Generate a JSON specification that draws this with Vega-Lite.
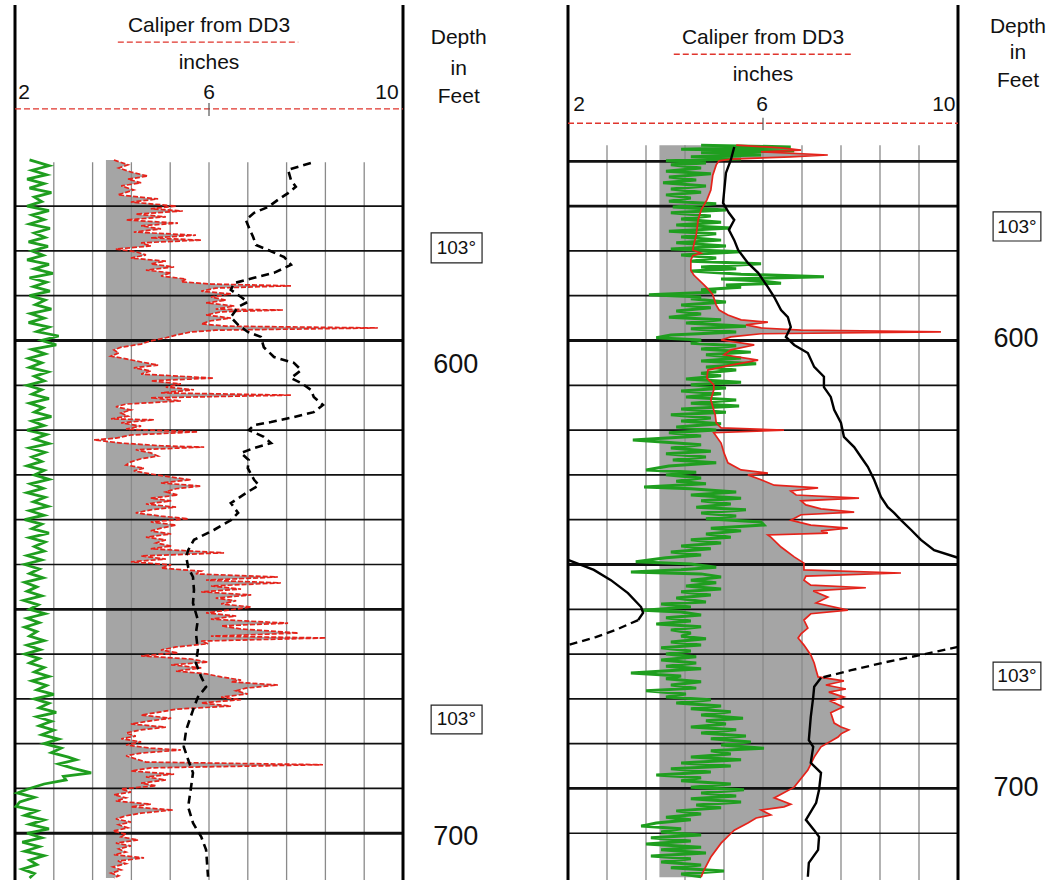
{
"$schema": "https://vega.github.io/schema/vega-lite/v6.json",
"padding": {"left": 10, "top": 0, "right": 0, "bottom": 2},
"background": "white",
"spacing": 0,
"bounds": "flush",
"config": {"view": {"stroke": null}, "text": {"font": "Liberation Sans"}},
"resolve": {"scale": {"x": "independent", "y": "independent"}},
"datasets": {
"grL": [{"d":559.7,"v":2.3},{"d":561,"v":2.7},{"d":562,"v":2.35},{"d":563,"v":2.65},{"d":564,"v":2.25},{"d":565,"v":2.6},{"d":566,"v":2.3},{"d":567,"v":2.75},{"d":568,"v":2.4},{"d":569,"v":2.55},{"d":570,"v":2.25},{"d":571,"v":2.7},{"d":572,"v":2.35},{"d":573,"v":2.6},{"d":574,"v":2.3},{"d":575,"v":2.72},{"d":576,"v":2.4},{"d":577,"v":2.62},{"d":578,"v":2.28},{"d":579,"v":2.68},{"d":580,"v":2.35},{"d":581,"v":2.58},{"d":582,"v":2.25},{"d":583,"v":2.7},{"d":584,"v":2.4},{"d":585,"v":2.78},{"d":586,"v":2.3},{"d":587,"v":2.65},{"d":588,"v":2.38},{"d":589,"v":2.72},{"d":590,"v":2.3},{"d":591,"v":2.62},{"d":592,"v":2.42},{"d":593,"v":2.75},{"d":594,"v":2.32},{"d":595,"v":2.6},{"d":596,"v":2.28},{"d":597,"v":2.7},{"d":598,"v":2.45},{"d":599,"v":2.9},{"d":600,"v":2.55},{"d":601,"v":2.85},{"d":602,"v":2.35},{"d":603,"v":2.62},{"d":604,"v":2.28},{"d":605,"v":2.55},{"d":606,"v":2.3},{"d":607,"v":2.68},{"d":608,"v":2.4},{"d":609,"v":2.6},{"d":610,"v":2.25},{"d":611,"v":2.55},{"d":612,"v":2.35},{"d":613,"v":2.7},{"d":614,"v":2.3},{"d":615,"v":2.58},{"d":616,"v":2.4},{"d":617,"v":2.75},{"d":618,"v":2.35},{"d":619,"v":2.6},{"d":620,"v":2.25},{"d":621,"v":2.65},{"d":622,"v":2.4},{"d":623,"v":2.7},{"d":624,"v":2.3},{"d":625,"v":2.62},{"d":626,"v":2.35},{"d":627,"v":2.55},{"d":628,"v":2.25},{"d":629,"v":2.6},{"d":630,"v":2.4},{"d":631,"v":2.7},{"d":632,"v":2.32},{"d":633,"v":2.58},{"d":634,"v":2.25},{"d":635,"v":2.62},{"d":636,"v":2.38},{"d":637,"v":2.68},{"d":638,"v":2.3},{"d":639,"v":2.6},{"d":640,"v":2.2},{"d":641,"v":2.55},{"d":642,"v":2.35},{"d":643,"v":2.7},{"d":644,"v":2.3},{"d":645,"v":2.62},{"d":646,"v":2.4},{"d":647,"v":2.6},{"d":648,"v":2.25},{"d":649,"v":2.55},{"d":650,"v":2.2},{"d":651,"v":2.5},{"d":652,"v":2.3},{"d":653,"v":2.58},{"d":654,"v":2.2},{"d":655,"v":2.45},{"d":656,"v":2.25},{"d":657,"v":2.55},{"d":658,"v":2.18},{"d":659,"v":2.48},{"d":660,"v":2.3},{"d":661,"v":2.62},{"d":662,"v":2.25},{"d":663,"v":2.5},{"d":664,"v":2.2},{"d":665,"v":2.45},{"d":666,"v":2.3},{"d":667,"v":2.6},{"d":668,"v":2.25},{"d":669,"v":2.52},{"d":670,"v":2.2},{"d":671,"v":2.5},{"d":672,"v":2.3},{"d":673,"v":2.6},{"d":674,"v":2.4},{"d":675,"v":2.7},{"d":676,"v":2.35},{"d":677,"v":2.65},{"d":678,"v":2.45},{"d":679,"v":2.8},{"d":680,"v":2.4},{"d":681,"v":2.7},{"d":682,"v":2.5},{"d":683,"v":2.85},{"d":684,"v":2.45},{"d":685,"v":2.75},{"d":686,"v":2.5},{"d":687,"v":2.8},{"d":688,"v":2.55},{"d":689,"v":2.9},{"d":690,"v":2.6},{"d":691,"v":2.95},{"d":692,"v":2.75},{"d":693,"v":3.1},{"d":693.6,"v":3.26},{"d":694.5,"v":2.9},{"d":695.5,"v":3.2},{"d":696.5,"v":3.57},{"d":697.3,"v":3.0},{"d":698.1,"v":3.05},{"d":699,"v":2.6},{"d":700,"v":2.3},{"d":701,"v":2.05},{"d":702,"v":2.4},{"d":703,"v":2.1},{"d":704,"v":2.02},{"d":705,"v":2.45},{"d":706,"v":2.2},{"d":707,"v":2.6},{"d":708,"v":2.3},{"d":709,"v":2.7},{"d":710,"v":2.25},{"d":711,"v":2.55},{"d":712,"v":2.15},{"d":713,"v":2.5},{"d":714,"v":2.2},{"d":715,"v":2.6},{"d":716,"v":2.3},{"d":717,"v":2.45},{"d":718,"v":2.15},{"d":719,"v":2.4},{"d":720,"v":2.3}],
"calL": [{"d":559.7,"v":4.04},{"d":560.8,"v":4.33},{"d":561.5,"v":4.14},{"d":562.4,"v":4.39},{"d":563.3,"v":4.74},{"d":564.0,"v":4.33},{"d":564.8,"v":4.60},{"d":565.5,"v":4.19},{"d":566.4,"v":4.45},{"d":567.5,"v":4.12},{"d":568.4,"v":4.95},{"d":569.1,"v":4.39},{"d":570.0,"v":5.32},{"d":570.6,"v":4.80},{"d":571.1,"v":5.46},{"d":571.8,"v":4.49},{"d":572.4,"v":5.11},{"d":573.1,"v":4.29},{"d":573.8,"v":5.36},{"d":574.4,"v":4.60},{"d":575.1,"v":5.01},{"d":575.8,"v":4.45},{"d":576.5,"v":5.73},{"d":577.1,"v":4.80},{"d":577.6,"v":5.84},{"d":578.2,"v":4.60},{"d":578.9,"v":4.80},{"d":579.6,"v":4.08},{"d":580.2,"v":4.49},{"d":580.9,"v":4.70},{"d":581.6,"v":4.39},{"d":582.3,"v":5.11},{"d":582.9,"v":4.80},{"d":583.6,"v":5.28},{"d":584.3,"v":4.70},{"d":584.9,"v":5.22},{"d":585.6,"v":5.01},{"d":586.3,"v":5.53},{"d":586.9,"v":5.42},{"d":587.4,"v":6.04},{"d":587.8,"v":7.69},{"d":588.3,"v":6.14},{"d":589.0,"v":5.84},{"d":589.6,"v":6.45},{"d":590.3,"v":6.04},{"d":591.0,"v":6.35},{"d":591.6,"v":5.94},{"d":592.3,"v":6.52},{"d":593.0,"v":6.14},{"d":593.2,"v":7.53},{"d":593.6,"v":6.25},{"d":594.3,"v":5.94},{"d":595.0,"v":6.45},{"d":595.6,"v":6.04},{"d":596.3,"v":5.84},{"d":596.8,"v":6.35},{"d":597.2,"v":9.48},{"d":597.7,"v":6.14},{"d":598.1,"v":5.63},{"d":598.8,"v":5.32},{"d":599.4,"v":5.11},{"d":600.1,"v":4.80},{"d":600.8,"v":4.60},{"d":601.5,"v":4.19},{"d":602.1,"v":4.04},{"d":602.8,"v":4.14},{"d":603.5,"v":3.98},{"d":604.1,"v":4.29},{"d":604.8,"v":4.60},{"d":605.5,"v":4.95},{"d":606.1,"v":4.45},{"d":606.8,"v":4.80},{"d":607.5,"v":4.60},{"d":608.4,"v":6.10},{"d":609.0,"v":4.80},{"d":609.7,"v":5.42},{"d":610.4,"v":5.11},{"d":611.0,"v":5.69},{"d":611.7,"v":5.01},{"d":612.2,"v":7.69},{"d":612.8,"v":4.80},{"d":613.5,"v":5.42},{"d":614.2,"v":4.29},{"d":614.8,"v":4.08},{"d":615.5,"v":4.39},{"d":616.2,"v":4.19},{"d":616.9,"v":4.33},{"d":617.5,"v":3.98},{"d":617.7,"v":4.87},{"d":618.4,"v":4.19},{"d":619.1,"v":4.60},{"d":619.8,"v":4.29},{"d":620.4,"v":5.77},{"d":621.1,"v":4.39},{"d":621.8,"v":4.08},{"d":622.2,"v":3.63},{"d":622.9,"v":4.19},{"d":623.5,"v":5.01},{"d":623.8,"v":5.90},{"d":624.4,"v":4.49},{"d":625.1,"v":4.80},{"d":625.8,"v":4.95},{"d":626.4,"v":4.60},{"d":627.1,"v":4.39},{"d":627.8,"v":4.29},{"d":628.5,"v":4.66},{"d":629.1,"v":4.45},{"d":629.8,"v":4.80},{"d":630.5,"v":5.22},{"d":631.1,"v":5.63},{"d":631.8,"v":5.01},{"d":632.5,"v":5.84},{"d":633.1,"v":5.32},{"d":633.8,"v":5.11},{"d":634.5,"v":5.36},{"d":635.2,"v":4.80},{"d":635.8,"v":5.22},{"d":636.5,"v":4.70},{"d":637.2,"v":5.32},{"d":637.8,"v":4.80},{"d":638.5,"v":4.49},{"d":639.2,"v":5.01},{"d":639.8,"v":5.57},{"d":640.5,"v":4.80},{"d":641.2,"v":5.32},{"d":641.9,"v":5.01},{"d":642.5,"v":4.80},{"d":643.2,"v":5.22},{"d":643.9,"v":4.70},{"d":644.5,"v":5.11},{"d":645.2,"v":4.91},{"d":645.9,"v":5.22},{"d":646.5,"v":4.80},{"d":647.4,"v":6.31},{"d":648.1,"v":4.60},{"d":648.8,"v":5.11},{"d":649.4,"v":4.39},{"d":650.1,"v":5.22},{"d":650.8,"v":5.01},{"d":651.5,"v":5.84},{"d":652.1,"v":5.73},{"d":652.8,"v":7.42},{"d":653.5,"v":5.94},{"d":654.1,"v":7.48},{"d":654.8,"v":6.04},{"d":655.5,"v":6.66},{"d":656.1,"v":5.84},{"d":656.8,"v":6.87},{"d":657.5,"v":6.14},{"d":658.1,"v":6.56},{"d":658.8,"v":6.25},{"d":659.5,"v":6.87},{"d":660.2,"v":6.39},{"d":660.8,"v":5.94},{"d":661.5,"v":6.56},{"d":662.2,"v":6.04},{"d":663.1,"v":7.63},{"d":663.7,"v":6.25},{"d":664.4,"v":6.66},{"d":665.3,"v":7.84},{"d":666.0,"v":6.04},{"d":666.4,"v":8.41},{"d":667.1,"v":5.84},{"d":667.7,"v":5.98},{"d":668.4,"v":5.32},{"d":669.1,"v":5.01},{"d":669.7,"v":5.36},{"d":670.4,"v":4.60},{"d":671.1,"v":5.63},{"d":671.8,"v":5.98},{"d":672.4,"v":5.22},{"d":673.1,"v":5.84},{"d":673.8,"v":5.32},{"d":674.4,"v":5.94},{"d":675.1,"v":6.25},{"d":675.8,"v":6.66},{"d":676.2,"v":6.45},{"d":676.9,"v":7.42},{"d":677.6,"v":6.76},{"d":678.2,"v":6.56},{"d":678.9,"v":6.80},{"d":679.6,"v":6.25},{"d":680.2,"v":6.66},{"d":680.9,"v":5.84},{"d":681.6,"v":6.45},{"d":682.3,"v":5.32},{"d":682.9,"v":5.01},{"d":683.6,"v":4.60},{"d":684.3,"v":5.22},{"d":684.9,"v":4.80},{"d":685.6,"v":4.39},{"d":686.3,"v":5.11},{"d":686.9,"v":4.60},{"d":687.6,"v":4.29},{"d":688.3,"v":4.49},{"d":688.9,"v":4.19},{"d":689.6,"v":4.60},{"d":690.3,"v":4.29},{"d":691.0,"v":4.80},{"d":691.4,"v":5.42},{"d":692.1,"v":4.60},{"d":692.7,"v":4.29},{"d":693.4,"v":4.49},{"d":694.1,"v":4.70},{"d":694.7,"v":8.35},{"d":695.4,"v":4.80},{"d":696.1,"v":4.39},{"d":696.8,"v":5.28},{"d":697.4,"v":4.70},{"d":698.1,"v":5.11},{"d":698.8,"v":4.60},{"d":699.4,"v":4.91},{"d":700.1,"v":4.19},{"d":700.8,"v":4.39},{"d":701.4,"v":4.04},{"d":702.1,"v":4.29},{"d":702.8,"v":4.08},{"d":703.5,"v":4.80},{"d":704.1,"v":4.39},{"d":704.8,"v":5.26},{"d":705.5,"v":4.60},{"d":706.1,"v":4.29},{"d":706.8,"v":4.08},{"d":707.5,"v":4.39},{"d":708.1,"v":4.14},{"d":708.8,"v":4.33},{"d":709.5,"v":4.02},{"d":710.2,"v":4.29},{"d":710.8,"v":4.19},{"d":711.5,"v":4.54},{"d":712.2,"v":4.08},{"d":712.8,"v":4.39},{"d":713.5,"v":4.14},{"d":714.2,"v":4.29},{"d":714.8,"v":4.04},{"d":715.5,"v":4.66},{"d":716.2,"v":4.12},{"d":716.8,"v":4.29},{"d":717.5,"v":4.02},{"d":718.2,"v":4.19},{"d":718.9,"v":3.98},{"d":719.5,"v":4.14},{"d":720.0,"v":4.04}],
"tempL": [{"d":560.4,"v":8.10},{"d":561.9,"v":7.63},{"d":564.2,"v":7.69},{"d":565.7,"v":7.79},{"d":567.1,"v":7.63},{"d":568.6,"v":7.42},{"d":570.2,"v":7.22},{"d":571.5,"v":6.93},{"d":573.1,"v":6.76},{"d":574.7,"v":6.82},{"d":576.9,"v":6.91},{"d":578.7,"v":6.97},{"d":579.8,"v":7.22},{"d":581.4,"v":7.55},{"d":583.1,"v":7.69},{"d":584.9,"v":7.34},{"d":586.0,"v":6.93},{"d":587.2,"v":6.52},{"d":588.7,"v":6.45},{"d":590.3,"v":6.66},{"d":591.4,"v":6.80},{"d":592.5,"v":6.60},{"d":594.8,"v":6.45},{"d":596.5,"v":6.60},{"d":598.1,"v":6.80},{"d":599.2,"v":7.07},{"d":601.5,"v":7.13},{"d":603.7,"v":7.34},{"d":605.0,"v":7.75},{"d":606.6,"v":7.90},{"d":608.4,"v":7.69},{"d":609.5,"v":7.90},{"d":611.0,"v":8.10},{"d":612.6,"v":8.16},{"d":614.4,"v":8.35},{"d":616.0,"v":8.16},{"d":617.1,"v":7.75},{"d":618.2,"v":7.28},{"d":618.9,"v":6.93},{"d":620.0,"v":6.82},{"d":621.5,"v":7.13},{"d":622.9,"v":7.28},{"d":624.0,"v":6.93},{"d":625.1,"v":6.66},{"d":626.7,"v":6.82},{"d":628.5,"v":6.80},{"d":631.1,"v":6.93},{"d":632.3,"v":7.03},{"d":633.8,"v":6.80},{"d":636.3,"v":6.45},{"d":638.5,"v":6.60},{"d":640.1,"v":6.45},{"d":642.3,"v":6.10},{"d":644.5,"v":5.69},{"d":646.8,"v":5.57},{"d":648.3,"v":5.53},{"d":650.6,"v":5.57},{"d":652.8,"v":5.67},{"d":655.7,"v":5.69},{"d":658.6,"v":5.67},{"d":662.4,"v":5.77},{"d":665.3,"v":5.73},{"d":669.1,"v":5.77},{"d":672.0,"v":5.73},{"d":675.1,"v":5.84},{"d":677.3,"v":5.94},{"d":679.6,"v":5.77},{"d":682.5,"v":5.67},{"d":686.9,"v":5.53},{"d":690.7,"v":5.48},{"d":693.6,"v":5.57},{"d":696.5,"v":5.67},{"d":699.7,"v":5.63},{"d":704.1,"v":5.57},{"d":707.7,"v":5.67},{"d":710.8,"v":5.84},{"d":713.7,"v":5.94},{"d":719.7,"v":5.98}],
"grR": [{"d":556.4,"v":4.73},{"d":556.8,"v":6.57},{"d":557.3,"v":4.32},{"d":557.7,"v":6.64},{"d":558.1,"v":4.73},{"d":558.6,"v":5.96},{"d":559.0,"v":4.52},{"d":559.5,"v":5.55},{"d":559.9,"v":4.01},{"d":560.4,"v":4.83},{"d":560.8,"v":4.11},{"d":561.5,"v":4.73},{"d":562.2,"v":4.01},{"d":562.8,"v":4.93},{"d":563.5,"v":4.07},{"d":564.2,"v":4.63},{"d":564.8,"v":3.95},{"d":565.5,"v":4.83},{"d":566.2,"v":4.11},{"d":566.9,"v":4.73},{"d":567.5,"v":4.01},{"d":568.2,"v":4.52},{"d":568.9,"v":4.07},{"d":569.5,"v":5.04},{"d":570.2,"v":4.15},{"d":570.9,"v":5.24},{"d":571.5,"v":4.11},{"d":572.2,"v":4.93},{"d":572.9,"v":4.32},{"d":573.6,"v":5.14},{"d":574.2,"v":4.22},{"d":574.9,"v":5.34},{"d":575.6,"v":4.07},{"d":576.2,"v":5.04},{"d":576.9,"v":4.32},{"d":577.6,"v":5.14},{"d":578.2,"v":4.22},{"d":578.9,"v":5.24},{"d":579.6,"v":4.11},{"d":580.2,"v":5.55},{"d":580.9,"v":4.32},{"d":581.6,"v":5.04},{"d":582.3,"v":4.52},{"d":582.9,"v":5.96},{"d":583.6,"v":4.73},{"d":584.0,"v":5.45},{"d":584.5,"v":4.52},{"d":585.2,"v":5.55},{"d":585.8,"v":7.25},{"d":586.3,"v":5.14},{"d":586.7,"v":5.96},{"d":587.2,"v":6.37},{"d":587.6,"v":5.24},{"d":588.1,"v":5.55},{"d":588.7,"v":4.73},{"d":589.2,"v":5.04},{"d":589.8,"v":3.66},{"d":590.3,"v":4.73},{"d":590.7,"v":4.52},{"d":591.4,"v":5.24},{"d":592.1,"v":4.32},{"d":592.7,"v":4.93},{"d":593.4,"v":4.22},{"d":594.1,"v":4.73},{"d":594.8,"v":4.07},{"d":595.4,"v":5.14},{"d":596.1,"v":4.42},{"d":596.8,"v":5.65},{"d":597.4,"v":4.52},{"d":598.1,"v":5.45},{"d":598.8,"v":4.11},{"d":599.4,"v":3.81},{"d":599.9,"v":4.73},{"d":600.6,"v":4.52},{"d":601.2,"v":5.45},{"d":601.9,"v":4.73},{"d":602.6,"v":5.75},{"d":603.2,"v":4.83},{"d":603.9,"v":5.55},{"d":604.6,"v":4.73},{"d":605.2,"v":5.86},{"d":605.9,"v":4.83},{"d":606.6,"v":5.45},{"d":607.3,"v":4.73},{"d":607.9,"v":5.14},{"d":608.6,"v":4.42},{"d":609.3,"v":5.55},{"d":609.9,"v":4.52},{"d":610.6,"v":5.24},{"d":611.3,"v":4.32},{"d":611.9,"v":5.14},{"d":612.6,"v":4.42},{"d":613.3,"v":5.45},{"d":614.0,"v":4.52},{"d":614.6,"v":5.51},{"d":615.3,"v":4.32},{"d":616.0,"v":5.24},{"d":616.6,"v":4.11},{"d":617.3,"v":4.93},{"d":618.0,"v":4.32},{"d":618.6,"v":5.14},{"d":619.3,"v":4.22},{"d":620.0,"v":5.04},{"d":620.6,"v":4.07},{"d":621.3,"v":4.73},{"d":622.2,"v":3.33},{"d":622.7,"v":4.01},{"d":623.3,"v":4.73},{"d":624.0,"v":4.11},{"d":624.7,"v":4.93},{"d":625.3,"v":4.01},{"d":626.0,"v":4.83},{"d":626.7,"v":4.15},{"d":627.3,"v":5.04},{"d":628.0,"v":4.07},{"d":628.9,"v":3.60},{"d":629.4,"v":4.63},{"d":630.0,"v":4.01},{"d":630.7,"v":4.73},{"d":631.4,"v":4.22},{"d":632.0,"v":4.83},{"d":632.7,"v":3.56},{"d":633.1,"v":4.52},{"d":633.8,"v":5.45},{"d":634.5,"v":4.52},{"d":635.2,"v":5.55},{"d":635.8,"v":4.73},{"d":636.5,"v":5.34},{"d":637.2,"v":4.63},{"d":637.8,"v":5.65},{"d":638.5,"v":4.73},{"d":639.2,"v":5.45},{"d":639.8,"v":4.83},{"d":640.5,"v":5.96},{"d":641.2,"v":6.02},{"d":641.9,"v":4.93},{"d":642.5,"v":5.55},{"d":643.2,"v":4.83},{"d":643.9,"v":5.34},{"d":644.5,"v":4.52},{"d":645.2,"v":5.14},{"d":645.9,"v":4.32},{"d":646.5,"v":4.93},{"d":647.2,"v":4.11},{"d":647.9,"v":4.73},{"d":648.5,"v":4.01},{"d":649.4,"v":3.39},{"d":649.9,"v":4.52},{"d":650.6,"v":5.04},{"d":651.2,"v":4.32},{"d":651.7,"v":3.29},{"d":652.1,"v":4.73},{"d":652.8,"v":5.14},{"d":653.5,"v":4.52},{"d":654.1,"v":5.04},{"d":654.8,"v":4.42},{"d":655.5,"v":5.14},{"d":656.1,"v":4.32},{"d":656.8,"v":4.93},{"d":657.5,"v":4.22},{"d":658.4,"v":4.83},{"d":658.8,"v":3.91},{"d":659.5,"v":4.52},{"d":660.2,"v":3.54},{"d":660.6,"v":4.32},{"d":661.3,"v":4.73},{"d":661.9,"v":4.01},{"d":662.6,"v":4.52},{"d":663.3,"v":3.81},{"d":663.9,"v":4.73},{"d":664.6,"v":4.11},{"d":665.3,"v":4.52},{"d":666.0,"v":4.32},{"d":666.6,"v":4.83},{"d":667.3,"v":4.11},{"d":668.0,"v":4.73},{"d":668.6,"v":3.91},{"d":669.3,"v":4.52},{"d":670.0,"v":4.01},{"d":670.6,"v":4.63},{"d":671.3,"v":3.91},{"d":672.0,"v":4.63},{"d":672.7,"v":4.01},{"d":673.3,"v":4.73},{"d":674.2,"v":3.29},{"d":674.9,"v":4.32},{"d":675.5,"v":4.01},{"d":676.2,"v":4.73},{"d":676.9,"v":4.11},{"d":677.6,"v":4.63},{"d":678.2,"v":3.60},{"d":678.9,"v":4.42},{"d":679.6,"v":4.01},{"d":680.2,"v":4.93},{"d":680.9,"v":4.22},{"d":681.6,"v":5.14},{"d":682.2,"v":4.52},{"d":682.9,"v":5.34},{"d":683.6,"v":4.73},{"d":684.3,"v":5.59},{"d":684.9,"v":4.83},{"d":685.6,"v":5.24},{"d":686.3,"v":4.52},{"d":686.9,"v":5.45},{"d":687.6,"v":4.73},{"d":688.3,"v":5.65},{"d":688.9,"v":4.93},{"d":689.6,"v":5.75},{"d":690.3,"v":5.14},{"d":691.0,"v":6.02},{"d":691.6,"v":4.93},{"d":692.3,"v":5.34},{"d":693.0,"v":4.52},{"d":693.6,"v":5.55},{"d":694.3,"v":4.32},{"d":695.0,"v":5.34},{"d":695.6,"v":4.11},{"d":696.3,"v":4.93},{"d":697.0,"v":3.81},{"d":697.6,"v":4.73},{"d":698.3,"v":4.32},{"d":699.0,"v":5.34},{"d":699.7,"v":4.52},{"d":700.3,"v":5.61},{"d":701.0,"v":4.73},{"d":701.7,"v":5.45},{"d":702.3,"v":4.52},{"d":703.0,"v":5.55},{"d":703.7,"v":4.63},{"d":704.3,"v":5.14},{"d":705.0,"v":4.22},{"d":705.7,"v":4.73},{"d":706.4,"v":4.01},{"d":707.0,"v":4.52},{"d":707.7,"v":3.81},{"d":708.4,"v":3.50},{"d":709.0,"v":4.32},{"d":709.7,"v":3.91},{"d":710.4,"v":4.73},{"d":711.0,"v":3.70},{"d":711.7,"v":4.52},{"d":712.4,"v":3.60},{"d":713.1,"v":4.73},{"d":713.7,"v":3.91},{"d":714.4,"v":4.83},{"d":715.1,"v":3.70},{"d":715.7,"v":4.52},{"d":716.4,"v":3.91},{"d":717.1,"v":4.73},{"d":717.7,"v":4.11},{"d":718.4,"v":5.20},{"d":719.1,"v":4.32},{"d":719.7,"v":4.73}],
"calR": [{"d":556.4,"v":5.45},{"d":557.0,"v":6.37},{"d":557.5,"v":6.78},{"d":557.9,"v":5.96},{"d":558.6,"v":7.33},{"d":559.0,"v":6.57},{"d":559.5,"v":5.34},{"d":559.9,"v":5.10},{"d":560.8,"v":5.04},{"d":563.1,"v":4.97},{"d":566.4,"v":4.93},{"d":568.6,"v":4.85},{"d":570.9,"v":4.73},{"d":573.1,"v":4.67},{"d":576.5,"v":4.63},{"d":578.7,"v":4.58},{"d":579.8,"v":4.56},{"d":580.5,"v":4.73},{"d":581.1,"v":4.56},{"d":582.0,"v":4.52},{"d":584.3,"v":4.52},{"d":585.4,"v":4.58},{"d":587.6,"v":4.79},{"d":588.7,"v":4.89},{"d":589.8,"v":4.97},{"d":592.1,"v":5.04},{"d":593.2,"v":5.10},{"d":594.3,"v":5.28},{"d":595.4,"v":5.55},{"d":595.9,"v":6.10},{"d":596.5,"v":5.65},{"d":597.2,"v":5.96},{"d":597.7,"v":6.78},{"d":598.1,"v":9.65},{"d":598.5,"v":5.96},{"d":599.2,"v":5.34},{"d":599.9,"v":5.14},{"d":601.0,"v":5.82},{"d":602.1,"v":5.34},{"d":603.2,"v":5.20},{"d":604.4,"v":5.90},{"d":605.5,"v":5.34},{"d":606.6,"v":4.87},{"d":608.4,"v":4.85},{"d":609.9,"v":4.99},{"d":611.0,"v":4.99},{"d":613.3,"v":4.93},{"d":614.8,"v":4.97},{"d":616.6,"v":5.02},{"d":618.4,"v":5.04},{"d":619.5,"v":5.14},{"d":620.0,"v":6.43},{"d":620.6,"v":4.99},{"d":622.9,"v":5.14},{"d":625.1,"v":5.20},{"d":627.3,"v":5.28},{"d":628.9,"v":5.55},{"d":629.6,"v":6.10},{"d":630.0,"v":5.69},{"d":631.1,"v":5.96},{"d":632.3,"v":6.23},{"d":632.9,"v":7.13},{"d":633.6,"v":6.57},{"d":634.5,"v":6.68},{"d":635.2,"v":7.97},{"d":635.8,"v":6.78},{"d":636.7,"v":6.88},{"d":637.6,"v":7.19},{"d":638.3,"v":7.87},{"d":638.9,"v":6.78},{"d":640.1,"v":6.57},{"d":641.2,"v":6.98},{"d":641.9,"v":7.74},{"d":642.5,"v":7.19},{"d":643.0,"v":7.33},{"d":643.4,"v":6.10},{"d":643.9,"v":6.16},{"d":646.1,"v":6.37},{"d":648.3,"v":6.64},{"d":649.7,"v":6.84},{"d":651.2,"v":6.84},{"d":651.9,"v":8.83},{"d":652.6,"v":6.88},{"d":653.5,"v":6.84},{"d":654.6,"v":6.98},{"d":655.2,"v":8.11},{"d":655.9,"v":7.03},{"d":657.3,"v":7.33},{"d":658.6,"v":7.09},{"d":660.2,"v":7.74},{"d":661.0,"v":6.98},{"d":662.4,"v":6.84},{"d":664.2,"v":6.92},{"d":665.5,"v":6.78},{"d":666.4,"v":6.72},{"d":668.0,"v":6.84},{"d":670.2,"v":6.98},{"d":672.0,"v":7.05},{"d":673.6,"v":7.09},{"d":675.1,"v":7.13},{"d":676.0,"v":7.66},{"d":676.9,"v":7.29},{"d":677.8,"v":7.70},{"d":678.5,"v":7.35},{"d":679.6,"v":7.66},{"d":680.5,"v":7.39},{"d":681.8,"v":7.64},{"d":683.1,"v":7.39},{"d":685.4,"v":7.46},{"d":686.3,"v":7.60},{"d":686.9,"v":7.76},{"d":687.8,"v":7.60},{"d":688.5,"v":7.54},{"d":690.7,"v":7.19},{"d":693.0,"v":7.05},{"d":695.9,"v":6.92},{"d":699.7,"v":6.64},{"d":702.1,"v":6.23},{"d":703.5,"v":6.57},{"d":704.1,"v":6.43},{"d":704.8,"v":5.96},{"d":705.9,"v":6.16},{"d":706.6,"v":5.86},{"d":707.7,"v":5.69},{"d":709.3,"v":5.41},{"d":712.2,"v":5.14},{"d":715.3,"v":4.93},{"d":718.2,"v":4.79},{"d":719.8,"v":4.73}],
"tempRsolid": [{"s":"a","d":556.8,"v":5.41},{"s":"a","d":559.7,"v":5.34},{"s":"a","d":562.6,"v":5.24},{"s":"a","d":569.3,"v":5.18},{"s":"a","d":571.5,"v":5.30},{"s":"a","d":573.1,"v":5.41},{"s":"a","d":575.3,"v":5.30},{"s":"a","d":577.6,"v":5.41},{"s":"a","d":579.8,"v":5.49},{"s":"a","d":582.7,"v":5.69},{"s":"a","d":584.9,"v":5.90},{"s":"a","d":588.1,"v":6.10},{"s":"a","d":590.3,"v":6.23},{"s":"a","d":593.2,"v":6.37},{"s":"a","d":594.8,"v":6.51},{"s":"a","d":597.0,"v":6.57},{"s":"a","d":599.2,"v":6.47},{"s":"a","d":601.0,"v":6.64},{"s":"a","d":602.8,"v":6.92},{"s":"a","d":605.9,"v":7.05},{"s":"a","d":608.1,"v":7.25},{"s":"a","d":610.4,"v":7.25},{"s":"a","d":612.6,"v":7.39},{"s":"a","d":615.5,"v":7.46},{"s":"a","d":618.4,"v":7.60},{"s":"a","d":621.5,"v":7.66},{"s":"a","d":623.8,"v":7.87},{"s":"a","d":626.0,"v":8.01},{"s":"a","d":628.2,"v":8.15},{"s":"a","d":631.1,"v":8.28},{"s":"a","d":634.9,"v":8.42},{"s":"a","d":637.2,"v":8.56},{"s":"a","d":638.5,"v":8.69},{"s":"a","d":640.1,"v":8.83},{"s":"a","d":642.3,"v":9.04},{"s":"a","d":644.5,"v":9.24},{"s":"a","d":646.8,"v":9.51},{"s":"a","d":648.5,"v":10.0},{"s":"b","d":649.0,"v":2.0},{"s":"b","d":651.2,"v":2.53},{"s":"b","d":653.5,"v":2.88},{"s":"b","d":656.4,"v":3.23},{"s":"b","d":659.5,"v":3.50},{"s":"b","d":660.8,"v":3.54},{"s":"b","d":662.4,"v":3.44},{"s":"e","d":675.3,"v":7.19},{"s":"e","d":677.3,"v":7.05},{"s":"e","d":679.6,"v":7.03},{"s":"e","d":684.0,"v":6.98},{"s":"e","d":689.2,"v":6.94},{"s":"e","d":690.7,"v":7.03},{"s":"e","d":694.3,"v":6.98},{"s":"e","d":696.5,"v":7.19},{"s":"e","d":700.3,"v":7.15},{"s":"e","d":703.2,"v":7.09},{"s":"e","d":707.0,"v":6.88},{"s":"e","d":709.3,"v":7.05},{"s":"e","d":710.8,"v":7.15},{"s":"e","d":713.7,"v":7.13},{"s":"e","d":716.6,"v":6.94},{"s":"e","d":719.7,"v":6.92}],
"tempRdash": [{"s":"c","d":662.4,"v":3.44},{"s":"c","d":664.6,"v":2.98},{"s":"c","d":666.2,"v":2.57},{"s":"c","d":668.0,"v":2.0},{"s":"d","d":668.4,"v":10.0},{"s":"d","d":670.2,"v":9.24},{"s":"d","d":671.8,"v":8.52},{"s":"d","d":673.6,"v":7.81},{"s":"d","d":675.3,"v":7.19}],
"vgL": [{"v":2.8,"d":560.2,"d2":720.43},{"v":3.6,"d":560.2,"d2":720.43},{"v":4.4,"d":560.2,"d2":720.43},{"v":5.2,"d":560.2,"d2":720.43},{"v":6.0,"d":560.2,"d2":720.43},{"v":6.8,"d":560.2,"d2":720.43},{"v":7.6,"d":560.2,"d2":720.43},{"v":8.4,"d":560.2,"d2":720.43},{"v":9.2,"d":560.2,"d2":720.43}],
"vgR": [{"v":2.8,"d":556.4,"d2":720.43},{"v":3.6,"d":556.4,"d2":720.43},{"v":4.4,"d":556.4,"d2":720.43},{"v":5.2,"d":556.4,"d2":720.43},{"v":6.0,"d":556.4,"d2":720.43},{"v":6.8,"d":556.4,"d2":720.43},{"v":7.6,"d":556.4,"d2":720.43},{"v":8.4,"d":556.4,"d2":720.43},{"v":9.2,"d":556.4,"d2":720.43}],
"hgL": [{"d":570,"k":"minor","v":2,"v2":10},{"d":580,"k":"minor","v":2,"v2":10},{"d":590,"k":"minor","v":2,"v2":10},{"d":600,"k":"major","v":2,"v2":10},{"d":610,"k":"minor","v":2,"v2":10},{"d":620,"k":"minor","v":2,"v2":10},{"d":630,"k":"minor","v":2,"v2":10},{"d":640,"k":"minor","v":2,"v2":10},{"d":650,"k":"minor","v":2,"v2":10},{"d":660,"k":"major","v":2,"v2":10},{"d":670,"k":"minor","v":2,"v2":10},{"d":680,"k":"minor","v":2,"v2":10},{"d":690,"k":"minor","v":2,"v2":10},{"d":700,"k":"minor","v":2,"v2":10},{"d":710,"k":"major","v":2,"v2":10}],
"hgR": [{"d":560,"k":"major","v":2,"v2":10},{"d":570,"k":"major","v":2,"v2":10},{"d":580,"k":"minor","v":2,"v2":10},{"d":590,"k":"minor","v":2,"v2":10},{"d":600,"k":"major","v":2,"v2":10},{"d":610,"k":"minor","v":2,"v2":10},{"d":620,"k":"minor","v":2,"v2":10},{"d":630,"k":"minor","v":2,"v2":10},{"d":640,"k":"minor","v":2,"v2":10},{"d":650,"k":"major","v":2,"v2":10},{"d":660,"k":"minor","v":2,"v2":10},{"d":670,"k":"minor","v":2,"v2":10},{"d":680,"k":"minor","v":2,"v2":10},{"d":690,"k":"minor","v":2,"v2":10},{"d":700,"k":"major","v":2,"v2":10},{"d":710,"k":"minor","v":2,"v2":10}],
"borders": [{"v":2,"d":525.1,"d2":720.43},{"v":10,"d":525.1,"d2":720.43}],
"tickL": [{"v":6,"d":547.0,"d2":549.9}],
"tickR": [{"v":6,"d":550.3,"d2":553.0}],
"hdrRuleL": [{"v":4.12,"v2":7.84,"d":533.4},{"v":2,"v2":10,"d":548.3}],
"hdrRuleR": [{"v":4.17,"v2":7.85,"d":536.1},{"v":2,"v2":10,"d":551.5}],
"txtL": [{"v":6,"d":529.8,"t":"Caliper from DD3"},{"v":6,"d":538.1,"t":"inches"},{"v":2.19,"d":544.8,"t":"2"},{"v":6,"d":544.8,"t":"6"},{"v":9.67,"d":544.8,"t":"10"},{"v":11.15,"d":532.5,"t":"Depth"},{"v":11.15,"d":539.4,"t":"in"},{"v":11.15,"d":545.7,"t":"Feet"}],
"txtR": [{"v":6,"d":532.5,"t":"Caliper from DD3"},{"v":6,"d":540.7,"t":"inches"},{"v":2.23,"d":547.4,"t":"2"},{"v":5.98,"d":547.4,"t":"6"},{"v":9.71,"d":547.4,"t":"10"},{"v":11.23,"d":530.0,"t":"Depth"},{"v":11.23,"d":535.8,"t":"in"},{"v":11.23,"d":542.1,"t":"Feet"}],
"depL": [{"v":11.09,"d":605.5,"t":"600"},{"v":11.09,"d":710.8,"t":"700"}],
"depR": [{"v":11.19,"d":599.7,"t":"600"},{"v":11.19,"d":699.9,"t":"700"}],
"degL": [{"v":11.1,"d":579.4,"t":"103°","v2":11.63,"vb":10.58,"d1":576.0,"d2":582.7},{"v":11.1,"d":684.6,"t":"103°","v2":11.63,"vb":10.58,"d1":681.4,"d2":687.8}],
"degR": [{"v":11.21,"d":574.6,"t":"103°","v2":11.70,"vb":10.72,"d1":571.3,"d2":577.8},{"v":11.21,"d":674.9,"t":"103°","v2":11.70,"vb":10.72,"d1":671.8,"d2":678.0}]
},
"hconcat": [
{
"width": 553, "height": 880,
"encoding": {
"x": {"field": "v", "type": "quantitative", "scale": {"domain": [2, 13.402], "nice": false, "zero": false}, "axis": null},
"y": {"field": "d", "type": "quantitative", "scale": {"domain": [524, 720.43], "reverse": true, "nice": false, "zero": false}, "axis": null}
},
"layer": [
{"data": {"name": "calL"}, "mark": {"type": "area", "orient": "horizontal", "color": "#a5a5a5"}, "encoding": {"x2": {"datum": 3.875}}},
{"data": {"name": "vgL"}, "mark": {"type": "rule", "color": "#8a8a8a", "strokeWidth": 1.3}, "encoding": {"y2": {"field": "d2"}}},
{"data": {"name": "hgL"}, "mark": {"type": "rule", "color": "#111111"}, "encoding": {"x2": {"field": "v2"}, "strokeWidth": {"field": "k", "type": "nominal", "scale": {"domain": ["minor", "major"], "range": [1.7, 2.8]}, "legend": null}}},
{"data": {"name": "borders"}, "mark": {"type": "rule", "color": "#000000", "strokeWidth": 3}, "encoding": {"y2": {"field": "d2"}}},
{"data": {"name": "grL"}, "mark": {"type": "line", "color": "#1f9e1f", "strokeWidth": 2.8}, "encoding": {"order": {"field": "d", "type": "quantitative"}}},
{"data": {"name": "calL"}, "mark": {"type": "line", "color": "#e5231b", "strokeWidth": 1.7, "strokeDash": [5, 2]}, "encoding": {"order": {"field": "d", "type": "quantitative"}}},
{"data": {"name": "tempL"}, "mark": {"type": "line", "color": "#000000", "strokeWidth": 2.6, "strokeDash": [8, 5]}, "encoding": {"order": {"field": "d", "type": "quantitative"}}},
{"data": {"name": "hdrRuleL"}, "mark": {"type": "rule", "color": "#e0352d", "strokeWidth": 1.4, "strokeDash": [6, 3]}, "encoding": {"x2": {"field": "v2"}}},
{"data": {"name": "tickL"}, "mark": {"type": "rule", "color": "#555555", "strokeWidth": 1.2}, "encoding": {"y2": {"field": "d2"}}},
{"data": {"name": "txtL"}, "mark": {"type": "text", "fontSize": 21, "color": "#111111", "baseline": "middle"}, "encoding": {"text": {"field": "t"}}},
{"data": {"name": "depL"}, "mark": {"type": "text", "fontSize": 27, "color": "#111111", "baseline": "middle"}, "encoding": {"text": {"field": "t"}}},
{"data": {"name": "degL"}, "mark": {"type": "rect", "fillOpacity": 0, "stroke": "#222222", "strokeWidth": 1.2}, "encoding": {"x": {"field": "vb", "type": "quantitative"}, "x2": {"field": "v2"}, "y": {"field": "d1", "type": "quantitative"}, "y2": {"field": "d2"}}},
{"data": {"name": "degL"}, "mark": {"type": "text", "fontSize": 19, "color": "#111111", "baseline": "middle"}, "encoding": {"text": {"field": "t"}}}
]
},
{
"width": 497, "height": 880,
"encoding": {
"x": {"field": "v", "type": "quantitative", "scale": {"domain": [2, 12.195], "nice": false, "zero": false}, "axis": null},
"y": {"field": "d", "type": "quantitative", "scale": {"domain": [524, 720.43], "reverse": true, "nice": false, "zero": false}, "axis": null}
},
"layer": [
{"data": {"name": "calR"}, "mark": {"type": "area", "orient": "horizontal", "color": "#a5a5a5"}, "encoding": {"x2": {"datum": 3.875}}},
{"data": {"name": "vgR"}, "mark": {"type": "rule", "color": "#8a8a8a", "strokeWidth": 1.3}, "encoding": {"y2": {"field": "d2"}}},
{"data": {"name": "hgR"}, "mark": {"type": "rule", "color": "#111111"}, "encoding": {"x2": {"field": "v2"}, "strokeWidth": {"field": "k", "type": "nominal", "scale": {"domain": ["minor", "major"], "range": [1.7, 2.8]}, "legend": null}}},
{"data": {"name": "borders"}, "mark": {"type": "rule", "color": "#000000", "strokeWidth": 3}, "encoding": {"y2": {"field": "d2"}}},
{"data": {"name": "grR"}, "mark": {"type": "line", "color": "#1f9e1f", "strokeWidth": 3}, "encoding": {"order": {"field": "d", "type": "quantitative"}}},
{"data": {"name": "calR"}, "mark": {"type": "line", "color": "#e5231b", "strokeWidth": 1.7}, "encoding": {"order": {"field": "d", "type": "quantitative"}}},
{"data": {"name": "tempRsolid"}, "mark": {"type": "line", "color": "#000000", "strokeWidth": 2.4}, "encoding": {"detail": {"field": "s"}, "order": {"field": "d", "type": "quantitative"}}},
{"data": {"name": "tempRdash"}, "mark": {"type": "line", "color": "#000000", "strokeWidth": 2.4, "strokeDash": [8, 5]}, "encoding": {"detail": {"field": "s"}, "order": {"field": "d", "type": "quantitative"}}},
{"data": {"name": "hdrRuleR"}, "mark": {"type": "rule", "color": "#e0352d", "strokeWidth": 1.4, "strokeDash": [6, 3]}, "encoding": {"x2": {"field": "v2"}}},
{"data": {"name": "tickR"}, "mark": {"type": "rule", "color": "#555555", "strokeWidth": 1.2}, "encoding": {"y2": {"field": "d2"}}},
{"data": {"name": "txtR"}, "mark": {"type": "text", "fontSize": 21, "color": "#111111", "baseline": "middle"}, "encoding": {"text": {"field": "t"}}},
{"data": {"name": "depR"}, "mark": {"type": "text", "fontSize": 27, "color": "#111111", "baseline": "middle"}, "encoding": {"text": {"field": "t"}}},
{"data": {"name": "degR"}, "mark": {"type": "rect", "fillOpacity": 0, "stroke": "#222222", "strokeWidth": 1.2}, "encoding": {"x": {"field": "vb", "type": "quantitative"}, "x2": {"field": "v2"}, "y": {"field": "d1", "type": "quantitative"}, "y2": {"field": "d2"}}},
{"data": {"name": "degR"}, "mark": {"type": "text", "fontSize": 19, "color": "#111111", "baseline": "middle"}, "encoding": {"text": {"field": "t"}}}
]
}
]
}
